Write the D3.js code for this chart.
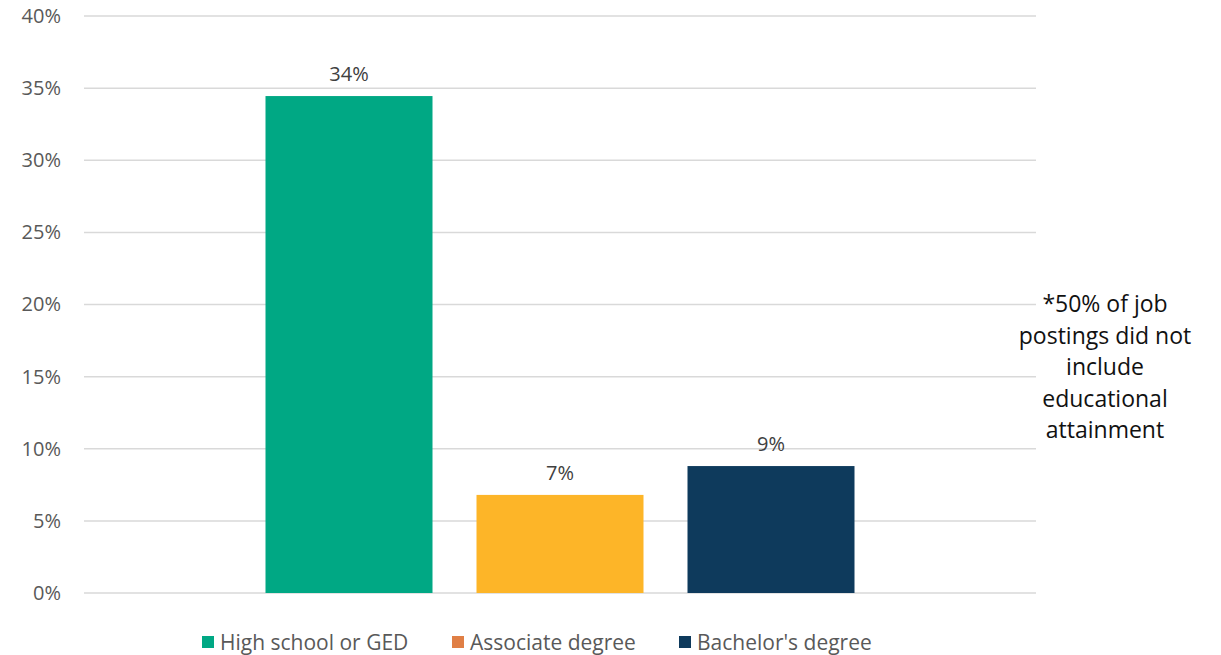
<!DOCTYPE html>
<html>
<head>
<meta charset="utf-8">
<script src="https://cdn.jsdelivr.net/npm/d3@7"></script>
<style>
  html, body { margin: 0; padding: 0; background: #fff; }
  svg { display: block; }
  text { font-family: "Open Sans", "Noto Sans", sans-serif; }
</style>
</head>
<body>
<svg id="chart" width="1221" height="655"></svg>
<script>
const categories = ["All"];
const seriesNames = ["High school or GED", "Associate degree", "Bachelor's degree"];
const seriesValues = [0.3445, 0.068, 0.088];
const valueLabels = ["34%", "7%", "9%"];
const barColors = ["#00A884", "#FDB528", "#0E3A5C"];
const legendColors = ["#00A884", "#E07F45", "#0E3A5C"];
const yTicks = [0, 0.05, 0.10, 0.15, 0.20, 0.25, 0.30, 0.35, 0.40];
const noteLines = ["*50% of job", "postings did not", "include", "educational", "attainment"];

const svg = d3.select("#chart");
const margin = {left: 84, right: 185, top: 16, bottom: 62};
const W = 1221, H = 655;

const x0 = d3.scaleBand().domain(categories).range([margin.left, W - margin.right]);
const clusterWidth = 589;
const x1 = d3.scaleBand().domain(seriesNames)
  .range([0, clusterWidth]).paddingInner(44 / 211).paddingOuter(0);
const y = d3.scaleLinear().domain([0, 0.40]).range([H - margin.bottom, margin.top]);

// gridlines
svg.append("g")
  .selectAll("line").data(yTicks).join("line")
  .attr("x1", margin.left).attr("x2", W - margin.right)
  .attr("y1", d => y(d)).attr("y2", d => y(d))
  .attr("stroke", "#d9d9d9").attr("stroke-width", 1.5);

// y axis
const yAxis = d3.axisLeft(y).tickValues(yTicks)
  .tickFormat(d => Math.round(d * 100) + "%").tickSize(0).tickPadding(23);
const ga = svg.append("g").attr("transform", `translate(${margin.left},0)`).call(yAxis);
ga.select(".domain").remove();
ga.selectAll("text").attr("font-size", 20).attr("fill", "#595959")
  .attr("font-family", "'Open Sans', sans-serif");

// bars
const cx = x0(categories[0]) + x0.bandwidth() / 2 - clusterWidth / 2;
const data = seriesNames.map((s, i) => ({s, v: seriesValues[i], label: valueLabels[i], c: barColors[i]}));
svg.append("g").selectAll("rect").data(data).join("rect")
  .attr("x", d => cx + x1(d.s))
  .attr("width", x1.bandwidth())
  .attr("y", d => y(d.v))
  .attr("height", d => y(0) - y(d.v))
  .attr("fill", d => d.c);

svg.append("g").selectAll("text").data(data).join("text")
  .attr("x", d => cx + x1(d.s) + x1.bandwidth() / 2)
  .attr("y", d => y(d.v) - 15)
  .attr("text-anchor", "middle")
  .attr("font-size", 20).attr("fill", "#404040")
  .text(d => d.label);

// legend
const legendX = [202, 452, 679];
const lg = svg.append("g");
seriesNames.forEach((s, i) => {
  lg.append("rect").attr("x", legendX[i]).attr("y", 636).attr("width", 12).attr("height", 12)
    .attr("fill", legendColors[i]);
  lg.append("text").attr("x", legendX[i] + 18).attr("y", 650)
    .attr("font-size", 21).attr("fill", "#595959").text(s);
});

// note
svg.append("g").selectAll("text").data(noteLines).join("text")
  .attr("x", 1105).attr("y", (d, i) => 312 + i * 31.5)
  .attr("text-anchor", "middle").attr("font-size", 23).attr("fill", "#111")
  .text(d => d);
</script>
</body>
</html>
